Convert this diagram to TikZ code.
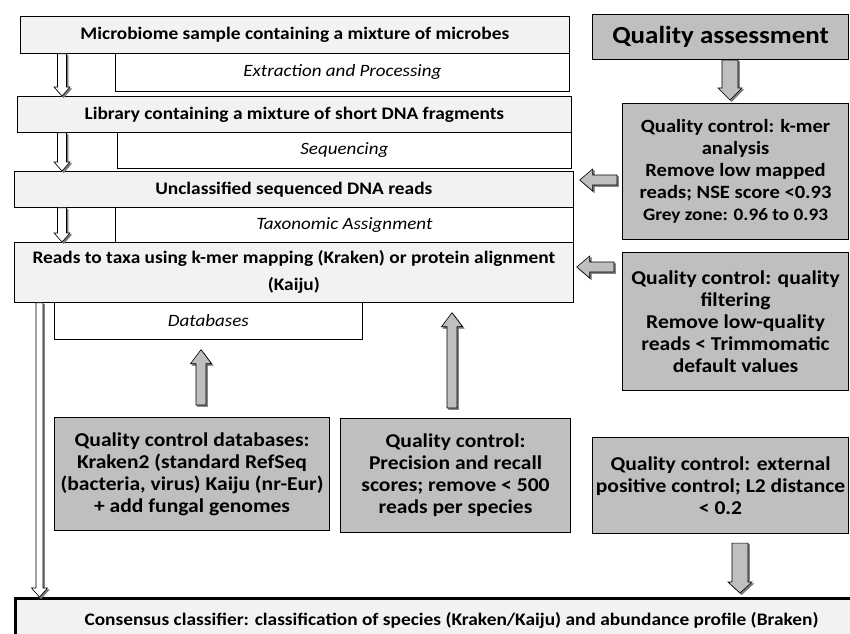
\documentclass[tikz,border=0pt]{standalone}
\usepackage{fontspec}
\setmainfont{Carlito}[FakeStretch=1.1]
\usetikzlibrary{calc}

\definecolor{stepgrey}{RGB}{242,242,242}
\definecolor{qcgrey}{RGB}{191,191,191}
\definecolor{shadowgrey}{RGB}{120,120,120}

\tikzset{
  stepbox/.style={draw, line width=0.7pt, fill=stepgrey, inner sep=0pt, align=center, anchor=north west,
    font=\fontsize{17.6}{27}\selectfont\bfseries},
  methodbox/.style={draw, line width=0.7pt, fill=white, inner sep=0pt, anchor=north west,
    font=\fontsize{17.3}{19}\selectfont\itshape},
  qcbox/.style={draw, line width=1.1pt, fill=qcgrey, inner sep=0pt, align=center, anchor=north west,
    font=\fontsize{19.6}{22}\selectfont\bfseries},
  size/.style 2 args={minimum width=#1, minimum height=#2},
}

% fat arrow: fill, from, to, shaft half width, head half width, head length
\newcommand{\fatarr}[6]{%
  \foreach \sh/\fc/\dc in {1.6/shadowgrey/shadowgrey, 0/#1/black}{
    \filldraw[fill=\fc, draw=\dc, line width=0.6pt, line join=miter]
      let \p1=#2, \p2=#3, \n1={atan2(\y2-\y1,\x2-\x1)}, \n2={veclen(\x2-\x1,\y2-\y1)} in
      [shift={(\p1)}, xshift=\sh pt, yshift=-\sh pt, rotate=\n1]
      (0pt,-#4) -- (\n2-#6,-#4) -- (\n2-#6,-#5) -- (\n2,0pt) -- (\n2-#6,#5) -- (\n2-#6,#4) -- (0pt,#4) -- cycle;
  }%
}

\begin{document}
\begin{tikzpicture}[x=1pt,y=-1pt]
\useasboundingbox (0,0) rectangle (850,633);

% left column: workflow
\node[stepbox, size={549pt}{37pt}] (sample) at (20,16) {Microbiome sample containing a mixture of microbes};
\node[methodbox, size={454pt}{38pt}] (extract) at (115,53) {Extraction and Processing};
\node[stepbox, size={554pt}{36pt}] (library) at (17,96) {Library containing a mixture of short DNA fragments};
\node[methodbox, size={454pt}{36pt}] (seq) at (117,132) {Sequencing};
\node[stepbox, size={559pt}{36pt}] (reads) at (14,171) {Unclassified sequenced DNA reads};
\node[methodbox, size={458pt}{35pt}] (taxo) at (115,207) {Taxonomic Assignment};
\node[stepbox, size={559pt}{60pt}] (taxa) at (14,242) {Reads to taxa using k-mer mapping (Kraken) or protein alignment\\(Kaiju)};
\node[methodbox, size={308pt}{37pt}] (db) at (54,302) {Databases};

% right column: quality
\node[qcbox, size={256pt}{45pt}, font=\fontsize{24.5}{26}\selectfont\bfseries] (qa) at (592,14) {Quality assessment};
\node[qcbox, size={226pt}{136pt}, font=\fontsize{18.7}{22}\selectfont\bfseries] (kmer) at (622,103) {Quality control: k-mer\\analysis\\Remove low mapped\\reads; NSE score {<}0.93\\{\fontsize{17.5}{22}\selectfont Grey zone: 0.96 to 0.93}};
\node[qcbox, size={226pt}{138pt}] (filter) at (622,252) {Quality control: quality\\filtering\\Remove low-quality\\reads {<} Trimmomatic\\default values};
\node[qcbox, size={275pt}{113pt}] (qcdb) at (54,417) {Quality control databases:\\Kraken2 (standard RefSeq\\(bacteria, virus) Kaiju (nr-Eur)\\+ add fungal genomes};
\node[qcbox, size={230pt}{114pt}] (prec) at (340,418) {Quality control:\\Precision and recall\\scores; remove {<} 500\\reads per species};
\node[qcbox, size={256pt}{96pt}] (ext) at (592,437) {Quality control: external\\positive control; L2 distance\\{<} 0.2};

% consensus
\node[stepbox, line width=3pt, size={872pt}{44pt}] (cons) at (14,597) {Consensus classifier: classification of species (Kraken/Kaiju) and abundance profile (Braken)};

\coordinate (colA) at (62,0);
\coordinate (colL) at (39.5,0);
\coordinate (colQ) at (730,0);
\coordinate (colD) at (201,0);
\coordinate (colP) at (452,0);
\coordinate (colE) at (740,0);
\coordinate (rowA) at (0,180);
\coordinate (rowB) at (0,267);

% arrows
\fatarr{white}{(sample.south -| colA)}{(library.north -| colA)}{4.5pt}{8pt}{9pt}
\fatarr{white}{(library.south -| colA)}{(reads.north -| colA)}{4.5pt}{8pt}{9pt}
\fatarr{white}{(reads.south -| colA)}{(taxa.north -| colA)}{4.5pt}{8pt}{9pt}
\fatarr{white}{(taxa.south -| colL)}{(cons.north -| colL)}{3.5pt}{8pt}{9pt}

\fatarr{qcgrey}{(qa.south -| colQ)}{($(kmer.north -| colQ)+(0pt,3pt)$)}{8pt}{12pt}{12pt}
\fatarr{qcgrey}{($(kmer.west |- rowA)+(-5pt,0pt)$)}{($(reads.east |- rowA)+(6pt,0pt)$)}{5pt}{11pt}{13pt}
\fatarr{qcgrey}{($(filter.west |- rowB)+(-8pt,0pt)$)}{($(taxa.east |- rowB)+(3pt,0pt)$)}{5pt}{11pt}{13pt}
\fatarr{qcgrey}{($(qcdb.north -| colD)+(0pt,12pt)$)}{($(db.south -| colD)+(0pt,-10pt)$)}{5pt}{10.5pt}{14pt}
\fatarr{qcgrey}{($(prec.north -| colP)+(0pt,10pt)$)}{($(taxa.south -| colP)+(0pt,-10pt)$)}{5pt}{10.5pt}{14pt}
\fatarr{qcgrey}{($(ext.south -| colE)+(0pt,-9pt)$)}{($(cons.north -| colE)+(0pt,4pt)$)}{8pt}{12pt}{11pt}
\end{tikzpicture}
\end{document}
